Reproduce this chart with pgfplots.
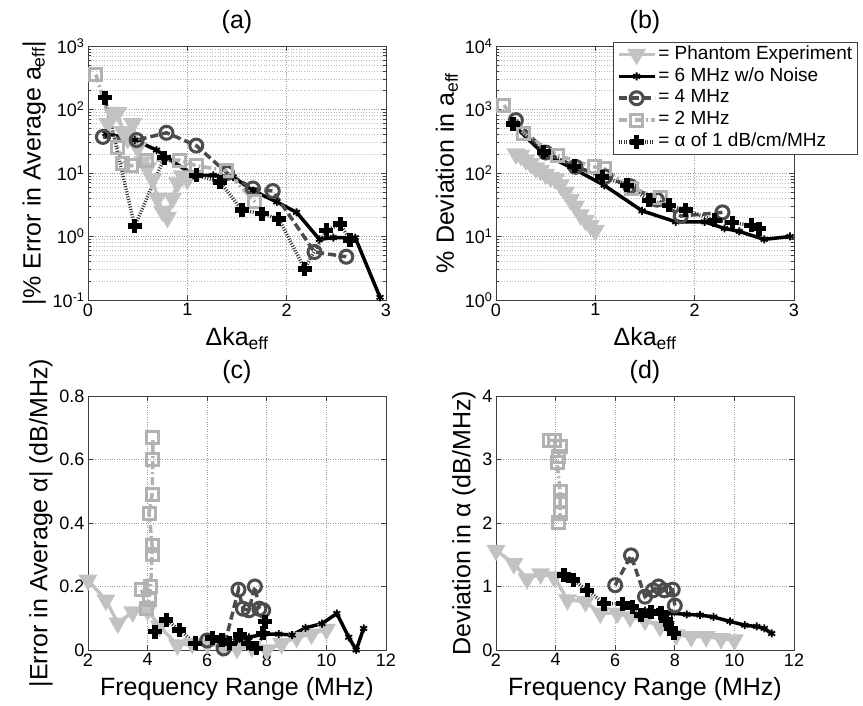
\documentclass[border=0pt]{standalone}
\usepackage{fontspec}
\setmainfont{Liberation Sans}
\usepackage{pgfplots}
\pgfplotsset{compat=1.18}
\definecolor{phant}{gray}{0.76}
\definecolor{twom}{gray}{0.70}
\definecolor{fourm}{gray}{0.30}
\definecolor{axgray}{gray}{0.25}
\pgfplotsset{
 mystyle/.style={
  scale only axis, width=298pt, height=254pt,
  axis line style={axgray, line width=0.9pt},
  tick style={axgray, line width=0.7pt},
  major tick length=5pt, minor tick length=3pt,
  tick align=inside,
  ticklabel style={font=\fontsize{18}{20}\selectfont},
  label style={font=\fontsize{25}{28}\selectfont},
  xlabel style={yshift=-4pt},
  title style={font=\fontsize{25}{28}\selectfont, yshift=3pt},
  /pgf/number format/assume math mode=true,
  grid style={dotted, gray!80, line width=0.7pt},
  minor grid style={dotted, gray!55, line width=0.6pt},
  xmajorgrids, ymajorgrids,
  clip=false,
 },
 logstyle/.style={
  yminorgrids,
  xmin=0, xmax=3, xtick={0,1,2,3},
  xlabel={Δka\textsubscript{eff}},
 },
 linstyle/.style={
  xmin=2, xmax=12, xtick={2,4,...,12},
  xlabel={Frequency Range (MHz)},
 },
 phs/.style={phant, line width=3.5pt, mark=triangle*, mark size=7.5pt, mark options={rotate=180, solid, fill=phant}},
 sxs/.style={black, line width=3.5pt, mark=asterisk, mark size=4pt, mark options={solid, line width=1.8pt}},
 fms/.style={fourm, line width=3.5pt, dash pattern=on 8pt off 4pt, mark=o, mark size=6.5pt, mark options={solid, line width=3pt}},
 tms/.style={twom, line width=3.5pt, dash pattern=on 8pt off 3pt on 2pt off 3pt, mark=square, mark size=6pt, mark options={solid, line width=3pt}},
 als/.style={black!80, line width=3.5pt, dash pattern=on 1pt off 1.6pt, mark=+, mark size=7pt, mark options={solid, black, line width=5.5pt}},
}
\begin{document}
\begin{tikzpicture}
\useasboundingbox (0,0) rectangle (863pt,706pt);
% (a)
\begin{axis}[ymode=log, mystyle, logstyle, at={(88pt,406pt)}, anchor=south west,
  ymin=0.1, ymax=1000, ytick={0.1,1,10,100,1000},
  yticklabels={10\textsuperscript{-1},10\textsuperscript{0},10\textsuperscript{1},10\textsuperscript{2},10\textsuperscript{3}},
  minor ytick={0.2,0.3,0.4,0.5,0.6,0.7,0.8,0.9,2,3,4,5,6,7,8,9,20,30,40,50,60,70,80,90,200,300,400,500,600,700,800,900},
  title={(a)}, ylabel={|\% Error in Average a\textsubscript{eff}|}]
\addplot[phs] coordinates {(0.20,60) (0.25,85) (0.30,90) (0.35,45) (0.40,35) (0.45,60) (0.50,25) (0.55,15) (0.60,12) (0.65,8) (0.70,4) (0.75,2.5) (0.80,2.0) (0.85,4) (0.90,7) (0.95,9) (1.00,8)};
\addplot[sxs] coordinates {(0.18,42) (0.47,33) (0.69,23) (1.06,9.2) (1.26,9.2) (1.46,8.7) (1.66,5.3) (1.90,3.5) (2.10,2.4) (2.33,0.9) (2.47,0.96) (2.69,0.96) (2.94,0.11)};
\addplot[fms] coordinates {(0.15,37) (0.49,33) (0.79,43) (1.09,27) (1.40,10) (1.66,5.7) (1.86,5.2) (2.28,0.57) (2.60,0.48)};
\addplot[tms] coordinates {(0.08,355) (0.30,25) (0.35,14) (0.44,13) (0.59,16) (0.92,16) (1.09,13) (1.39,11) (1.68,3.5)};
\addplot[als] coordinates {(0.17,154) (0.47,1.45) (0.77,17.5) (1.09,9.2) (1.33,7.2) (1.55,2.6) (1.75,2.3) (1.92,1.9) (2.18,0.31) (2.40,1.25) (2.54,1.56) (2.64,0.88)};
\end{axis}
% (b)
\begin{axis}[ymode=log, mystyle, logstyle, at={(496pt,406pt)}, anchor=south west,
  ymin=1, ymax=10000, ytick={1,10,100,1000,10000},
  yticklabels={10\textsuperscript{0},10\textsuperscript{1},10\textsuperscript{2},10\textsuperscript{3},10\textsuperscript{4}},
  minor ytick={2,3,4,5,6,7,8,9,20,30,40,50,60,70,80,90,200,300,400,500,600,700,800,900,2000,3000,4000,5000,6000,7000,8000,9000},
  title={(b)}, ylabel={\% Deviation in a\textsubscript{eff}},
  legend image code/.code={\draw[mark repeat=2,mark phase=2] plot coordinates {(0pt,0pt) (18pt,0pt) (36pt,0pt)};},
  legend style={at={(axis description cs:0.394,1.0157)}, anchor=north west, draw=axgray, line width=0.9pt, fill=white,
    font=\fontsize{19}{21}\selectfont, inner xsep=3pt, inner ysep=1pt, row sep=0pt,
    nodes={text height=13.5pt, text depth=4pt, inner ysep=2.2pt}},
  legend cell align=left]
\addplot[phs] coordinates {(0.20,200) (0.25,190) (0.30,160) (0.35,140) (0.40,120) (0.45,110) (0.50,95) (0.55,85) (0.60,80) (0.65,65) (0.70,50) (0.75,38) (0.80,30) (0.85,22) (0.90,18) (0.95,15) (1.00,12.5)};
\addlegendentry{= Phantom Experiment}
\addplot[sxs] coordinates {(0.16,600) (0.48,200) (0.78,117) (1.09,64) (1.47,25.4) (1.81,17) (2.10,17) (2.30,13.4) (2.45,12) (2.70,9) (2.96,10)};
\addlegendentry{= 6 MHz w/o Noise}
\addplot[fms] coordinates {(0.2,680) (0.5,210) (0.8,125) (1.1,88) (1.35,62) (1.62,38) (1.86,21) (2.28,24)};
\addlegendentry{= 4 MHz}
\addplot[tms] coordinates {(0.08,1170) (0.28,420) (0.62,190) (0.99,125) (1.09,117) (1.36,57) (1.66,41)};
\addlegendentry{= 2 MHz}
\addplot[als] coordinates {(0.17,590) (0.48,214) (0.79,127) (1.07,87) (1.32,64) (1.54,37) (1.74,31) (1.91,26) (2.20,18) (2.38,16.5) (2.57,15) (2.65,13.3)};
\addlegendentry{= α of 1 dB/cm/MHz}
\end{axis}
% (c)
\begin{axis}[mystyle, linstyle, at={(88pt,56pt)}, anchor=south west,
  ymin=0, ymax=0.8, ytick={0,0.2,...,0.8},
  title={(c)}, ylabel={|Error in Average α| (dB/MHz)}]
\addplot[phs] coordinates {(2.0,0.22) (2.6,0.157) (3.0,0.085) (3.5,0.12) (4.0,0.125) (4.4,0.075) (5.0,0.016) (5.5,0.02) (6.0,0.02) (6.5,0.01) (7.0,0.005) (7.5,0.01) (8.0,0.0) (8.5,0.02) (9.0,0.04) (9.5,0.05) (10.0,0.065)};
\addplot[sxs] coordinates {(7.0,0.03) (7.4,0.04) (7.9,0.05) (8.4,0.05) (8.85,0.047) (9.3,0.07) (9.85,0.083) (10.35,0.115) (10.75,0.04) (11.0,0.0) (11.25,0.068)};
\addplot[fms] coordinates {(6.0,0.03) (6.55,0.005) (7.05,0.19) (7.2,0.13) (7.4,0.125) (7.6,0.2) (7.75,0.13) (7.88,0.125)};
\addplot[tms] coordinates {(3.8,0.19) (3.95,0.13) (4.05,0.16) (4.1,0.2) (4.15,0.3) (4.15,0.33) (4.05,0.43) (4.15,0.49) (4.18,0.6) (4.18,0.67)};
\addplot[als] coordinates {(4.25,0.058) (4.63,0.094) (5.07,0.063) (5.6,0.021) (6.17,0.037) (6.5,0.03) (6.75,0.021) (7.1,0.047) (7.38,0.021) (7.65,0.005) (7.88,0.052) (7.94,0.089)};
\end{axis}
% (d)
\begin{axis}[mystyle, linstyle, at={(496pt,56pt)}, anchor=south west,
  ymin=0, ymax=4, ytick={0,1,2,3,4},
  title={(d)}, ylabel={Deviation in α (dB/MHz)}]
\addplot[phs] coordinates {(2.0,1.57) (2.6,1.36) (3.04,1.12) (3.5,1.2) (3.95,1.15) (4.4,0.79) (5.0,0.76) (5.5,0.58) (6.07,0.58) (6.5,0.52) (7.0,0.47) (7.5,0.37) (8.05,0.24) (8.55,0.21) (9.05,0.21) (9.55,0.18) (10.0,0.16)};
\addplot[sxs] coordinates {(7.0,0.62) (7.4,0.6) (7.9,0.58) (8.4,0.56) (8.85,0.55) (9.3,0.52) (9.85,0.45) (10.35,0.39) (10.75,0.37) (11.0,0.34) (11.25,0.26)};
\addplot[fms] coordinates {(6.0,1.02) (6.53,1.49) (7.0,0.84) (7.27,0.94) (7.45,1.0) (7.65,0.94) (7.93,0.95) (8.0,0.7)};
\addplot[tms] coordinates {(3.8,3.3) (3.95,3.3) (4.15,3.2) (4.1,3.05) (4.05,2.95) (4.15,2.5) (4.15,2.35) (4.15,2.15) (4.1,2.0)};
\addplot[als] coordinates {(4.28,1.18) (4.6,1.1) (5.07,0.94) (5.63,0.73) (6.25,0.73) (6.58,0.68) (6.86,0.55) (7.2,0.6) (7.53,0.58) (7.7,0.47) (7.87,0.34) (7.98,0.26)};
\end{axis}
\end{tikzpicture}
\end{document}
